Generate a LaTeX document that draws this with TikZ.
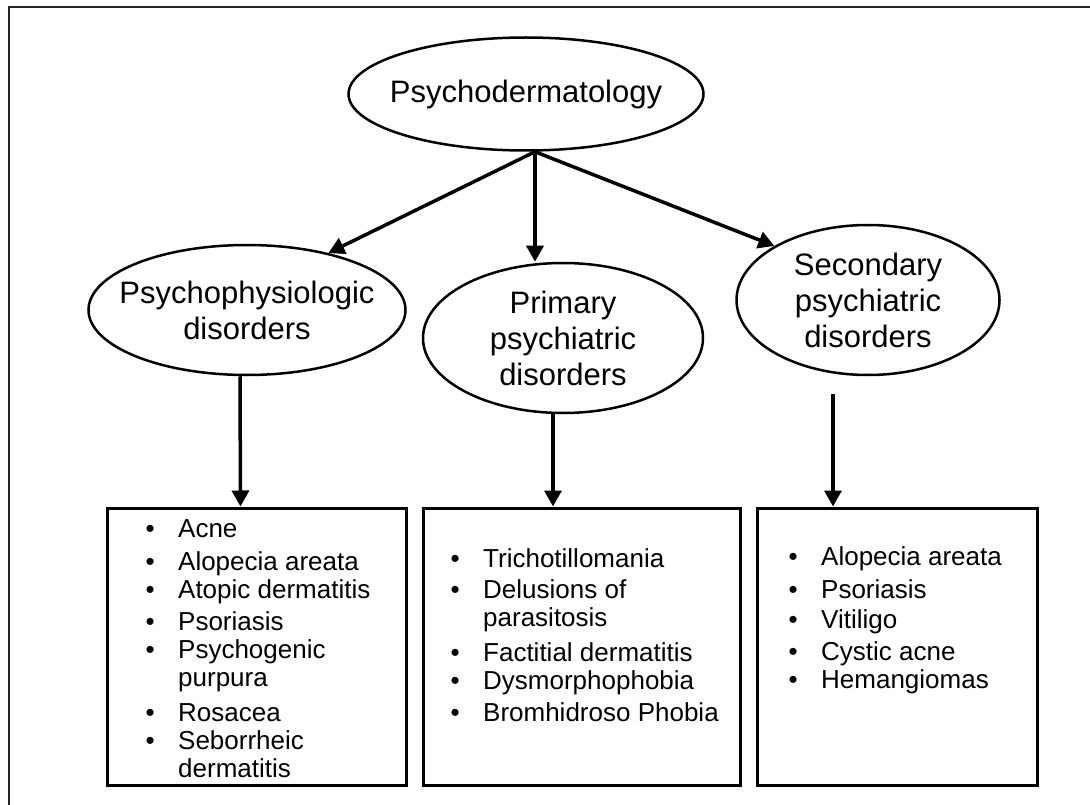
\documentclass[tikz,border=0pt]{standalone}
\usepackage{fontspec}
\setmainfont{Liberation Sans}
\usetikzlibrary{shapes, arrows.meta, positioning}

\newcommand{\bul}{\makebox[56pt]{\textbullet}}

\begin{document}
\begin{tikzpicture}[
    x=1pt, y=-1pt,
    oval/.style={draw, ellipse, line width=2.5pt, inner sep=0pt},
    ovaltxt/.style={align=center, inner sep=0pt, font=\fontsize{31}{36}\selectfont},
    listbox/.style={draw, line width=3pt, minimum width=#1, minimum height=277pt, inner sep=0pt},
    listtxt/.style={anchor=base west, inner sep=0pt, font=\fontsize{26}{28}\selectfont},
    arr/.style={-{Triangle[length=16pt, width=17pt]}, line width=3.5pt}
]
\useasboundingbox (0,0) rectangle (1090,805);

% Frame (cut off at right and bottom)
\draw[line width=2.5pt, black!85] (9,805) |- (1090,7);

% Top ellipse and the three groups
\node[oval, minimum width=355pt, minimum height=113pt] (root)    at (526,94)  {};
\node[oval, minimum width=317pt, minimum height=130pt] (physio)  at (247,310) {};
\node[oval, minimum width=280pt, minimum height=150pt] (primary) at (563,338) {};
\node[oval, minimum width=263pt, minimum height=150pt] (second)  at (868,300) {};

\node[ovaltxt] (rootT)    at (root)    {Psychodermatology};
\node[ovaltxt] (physioT)  at (physio)  {Psychophysiologic\\disorders};
\node[ovaltxt] (primaryT) at (primary) {Primary\\psychiatric\\disorders};
\node[ovaltxt] (secondT)  at (second)  {Secondary\\psychiatric\\disorders};

% Lists of conditions
\node[listbox=299pt] (physbox) at (256.5,646.5) {};
\node[listbox=317pt] (primbox) at (581.5,646.5) {};
\node[listbox=280pt] (secbox)  at (897,646.5)   {};

\node[listtxt] (physlist) at (122,537) {\begin{tabular}[t]{@{}l@{}l@{}}
    \bul & Acne\\[5pt]
    \bul & Alopecia areata\\
    \bul & Atopic dermatitis\\[4pt]
    \bul & Psoriasis\\
    \bul & Psychogenic\\
         & purpura\\[7pt]
    \bul & Rosacea\\
    \bul & Seborrheic\\
         & dermatitis
\end{tabular}};
\node[listtxt] (primlist) at (427,567) {\begin{tabular}[t]{@{}l@{}l@{}}
    \bul & Trichotillomania\\[3pt]
    \bul & Delusions of\\
         & parasitosis\\[7pt]
    \bul & Factitial dermatitis\\
    \bul & Dysmorphophobia\\[4pt]
    \bul & Bromhidroso Phobia
\end{tabular}};
\node[listtxt] (seclist) at (765,565) {\begin{tabular}[t]{@{}l@{}l@{}}
    \bul & Alopecia areata\\[5pt]
    \bul & Psoriasis\\[2pt]
    \bul & Vitiligo\\[4pt]
    \bul & Cystic acne\\
    \bul & Hemangiomas
\end{tabular}};

% Arrows from the top ellipse
\coordinate (hub) at ([xshift=9pt]root.south);
\draw[arr] (hub) -- (physio.35);
\draw[arr] (hub) -- (hub |- primary.north);
\draw[arr] (hub) -- (second.150);

% Arrows down to the lists
\draw[arr] ([xshift=-7pt]physio.south) -- ([xshift=-16pt]physbox.north);
\draw[arr] ([xshift=-10pt]primary.south) -- ([xshift=-28.5pt]primbox.north);
\draw[arr] ([xshift=-35pt,yshift=-18pt]second.south) -- ([xshift=-64pt]secbox.north);

\end{tikzpicture}
\end{document}
